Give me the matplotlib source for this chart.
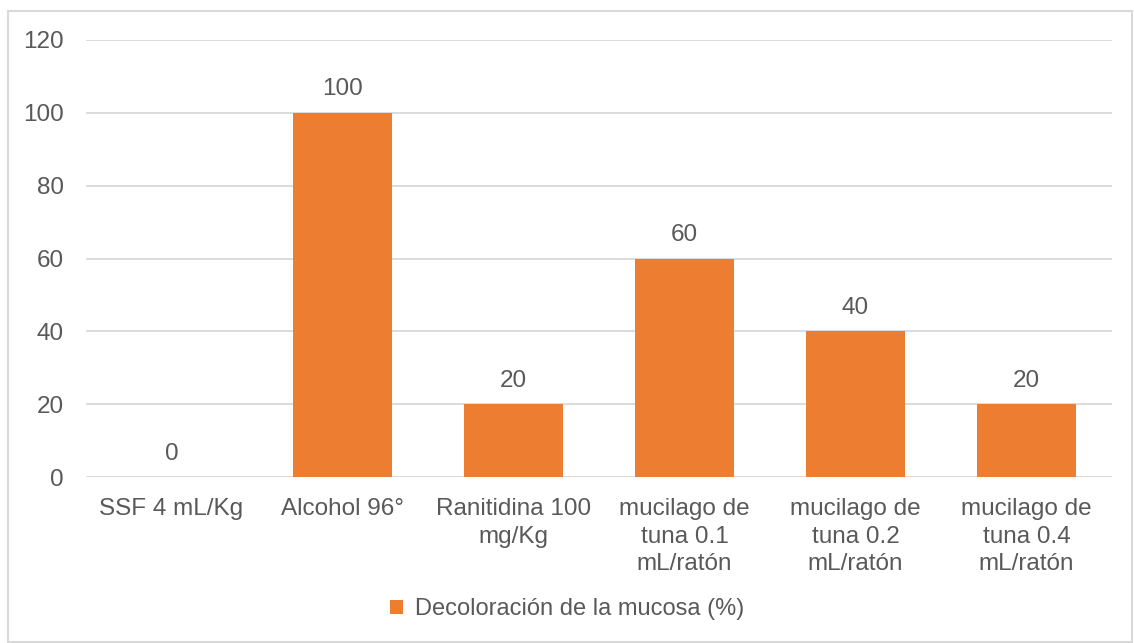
import matplotlib.pyplot as plt
from matplotlib.patches import Rectangle

categorias = ["SSF 4 mL/Kg", "Alcohol 96°", "Ranitidina 100\nmg/Kg",
              "mucilago de\ntuna 0.1\nmL/ratón", "mucilago de\ntuna 0.2\nmL/ratón",
              "mucilago de\ntuna 0.4\nmL/ratón"]
decoloracion = [0, 100, 20, 60, 40, 20]
serie = "Decoloración de la mucosa (%)"

naranja = "#ED7D31"
gris_texto = "#595959"
gris_linea = "#D9D9D9"
tam = 17.5

plt.rcParams["font.family"] = ["Liberation Sans", "DejaVu Sans"]

fig = plt.figure(figsize=(11.34, 6.43), dpi=100)
ax = fig.add_axes([86 / 1134, 1 - 477 / 643, (1112 - 86) / 1134, (477 - 40) / 643])

x = list(range(len(categorias)))
barras = ax.bar(x, decoloracion, width=0.58, color=naranja, label=serie, zorder=3)

ax.set_xlim(-0.5, len(categorias) - 0.5)
ax.set_ylim(0, 120)
ax.set_yticks(range(0, 121, 20))
ax.yaxis.grid(True, color=gris_linea, linewidth=1.3, zorder=0)
for s in ax.spines.values():
    s.set_visible(False)
ax.tick_params(axis="both", length=0, labelsize=tam, colors=gris_texto)
ax.tick_params(axis="y", pad=16)
ax.tick_params(axis="x", pad=15)
ax.set_xticks(x)
ax.set_xticklabels(categorias, linespacing=1.34)

for b, v in zip(barras, decoloracion):
    ax.annotate(str(v), (b.get_x() + b.get_width() / 2, v), xytext=(0, 9),
                textcoords="offset points", ha="center", va="bottom",
                fontsize=tam, color=gris_texto)

ax.legend(loc="center", bbox_to_anchor=(0.5, 1 - 609 / 643), bbox_transform=fig.transFigure,
          frameon=False, fontsize=17, labelcolor=gris_texto,
          handlelength=0.55, handleheight=0.55, handletextpad=0.5)

# borde del área del gráfico
fig.patches.append(Rectangle((8 / 1134, 1 / 643), 1124 / 1134, 1 - 12 / 643,
                             transform=fig.transFigure, fill=False,
                             edgecolor=gris_linea, linewidth=1.5))

fig.savefig("out.png", dpi=100)
